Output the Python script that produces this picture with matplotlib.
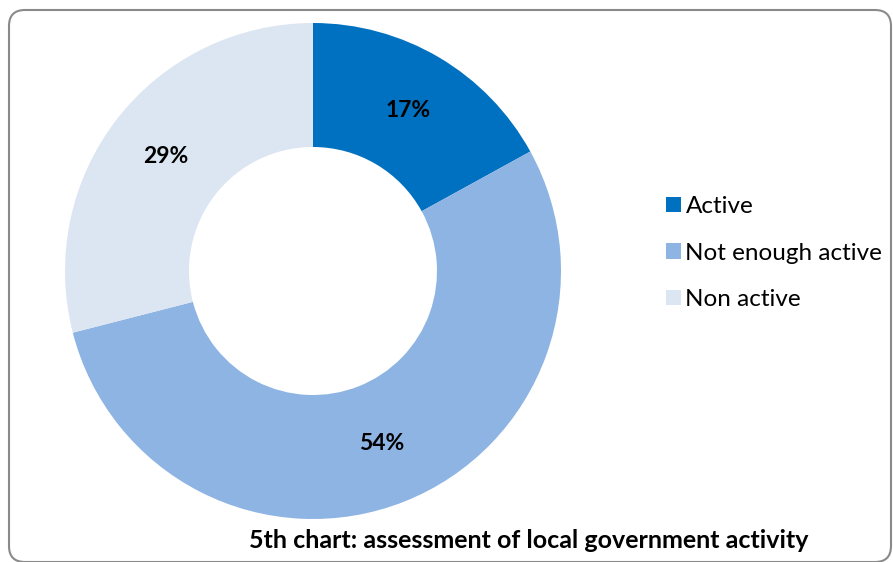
import matplotlib.pyplot as plt
from matplotlib.patches import FancyBboxPatch

categories = ['Active', 'Not enough active', 'Non active']
shares = [17, 54, 29]
colors = ['#0070C0', '#8EB4E3', '#DCE6F2']
title = '5th chart: assessment of local government activity'

plt.rcParams['font.family'] = ['Lato', 'DejaVu Sans']

W, H = 893, 562
fig = plt.figure(figsize=(W / 100, H / 100), dpi=100)

# rounded frame around the whole chart (in inches, 100 px per inch)
frame = FancyBboxPatch((9 / 100, 0), (W - 11) / 100, (H - 10) / 100,
                       boxstyle='round,pad=0,rounding_size=0.16',
                       transform=fig.dpi_scale_trans, fill=False,
                       edgecolor='#8a8a8a', linewidth=1.5)
fig.patches.append(frame)

# donut: centre (313, 271) px, outer radius 248 px
cx, cy, r = 313, 271, 248
ax = fig.add_axes([(cx - r) / W, (H - cy - r) / H, 2 * r / W, 2 * r / H])
wedges, texts, autotexts = ax.pie(
    shares, colors=colors, startangle=90, counterclock=False,
    radius=1, wedgeprops=dict(width=0.5, linewidth=0),
    autopct=lambda p: f'{p:.0f}%', pctdistance=0.75,
    textprops=dict(fontsize=16.5, fontweight='bold', color='black'))
ax.set_xlim(-1, 1)
ax.set_ylim(-1, 1)
ax.set_aspect('equal')
ax.axis('off')

fig.legend(wedges, categories, loc='center left',
           bbox_to_anchor=(666 / W, (H - 253) / H),
           frameon=False, fontsize=17.5, handlelength=0.6, handleheight=0.6,
           handletextpad=0.2, labelspacing=1.05, borderpad=0, borderaxespad=0)

fig.text(529 / W, (H - 541) / H, title, ha='center', va='center',
         fontsize=18, fontweight='bold')

fig.savefig('out.png', dpi=100)
